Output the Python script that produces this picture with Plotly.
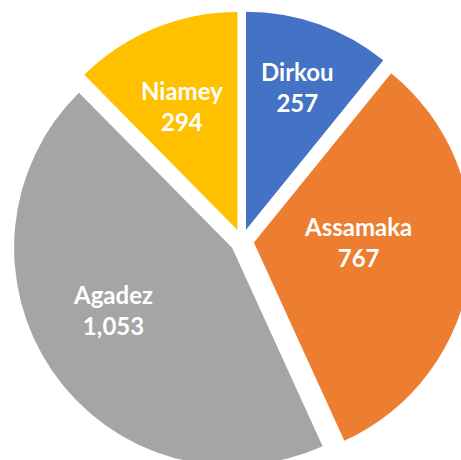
import math
import plotly.graph_objects as go

labels = ["Dirkou", "Assamaka", "Agadez", "Niamey"]
values = [257, 767, 1053, 294]
colors = ["#4472C4", "#ED7D31", "#A5A5A5", "#FFC000"]

# label placement styling (radial fraction of radius, angle nudge in degrees)
label_radius = [0.751, 0.530, 0.673, 0.678]
label_nudge = [0.3, -6.8, 6.4, -1.8]

W, H = 480, 480
PULL = 0.055
dom_x = [12 / W, 472 / W]
dom_y = [1 - 471 / H, 1 - 11 / H]

fig = go.Figure(go.Pie(
    labels=labels,
    values=values,
    sort=False,
    direction="clockwise",
    rotation=0,
    pull=[PULL] * len(values),
    marker=dict(colors=colors, line=dict(width=0)),
    textinfo="none",
    hoverinfo="skip",
    domain=dict(x=dom_x, y=dom_y),
))

# geometry of the pie (as plotly computes it)
cx = (dom_x[0] + dom_x[1]) / 2 * W
cy = (1 - (dom_y[0] + dom_y[1]) / 2) * H
box = min((dom_x[1] - dom_x[0]) * W, (dom_y[1] - dom_y[0]) * H)
R = box / (2 + 2 * PULL)

total = sum(values)
start = 0.0
for lab, val, rf, nd in zip(labels, values, label_radius, label_nudge):
    span = val / total * 360
    mid = math.radians(start + span / 2 + nd)
    start += span
    px = cx + rf * R * math.sin(mid)
    py = cy - rf * R * math.cos(mid)
    fig.add_annotation(
        x=px / W, y=1 - py / H, xref="paper", yref="paper",
        text=f"<b>{lab}<br>{val:,}</b>",
        showarrow=False, xanchor="center", yanchor="middle",
        font=dict(family="Lato, Open Sans, sans-serif", size=24, color="white"),
    )

fig.update_layout(
    width=W, height=H,
    margin=dict(l=0, r=0, t=0, b=0),
    showlegend=False,
    paper_bgcolor="white",
)
fig.write_html(
    "out.html",
    config={"displayModeBar": False, "staticPlot": True},
    post_script="document.body.style.margin='0';document.body.style.overflow='hidden';",
)
